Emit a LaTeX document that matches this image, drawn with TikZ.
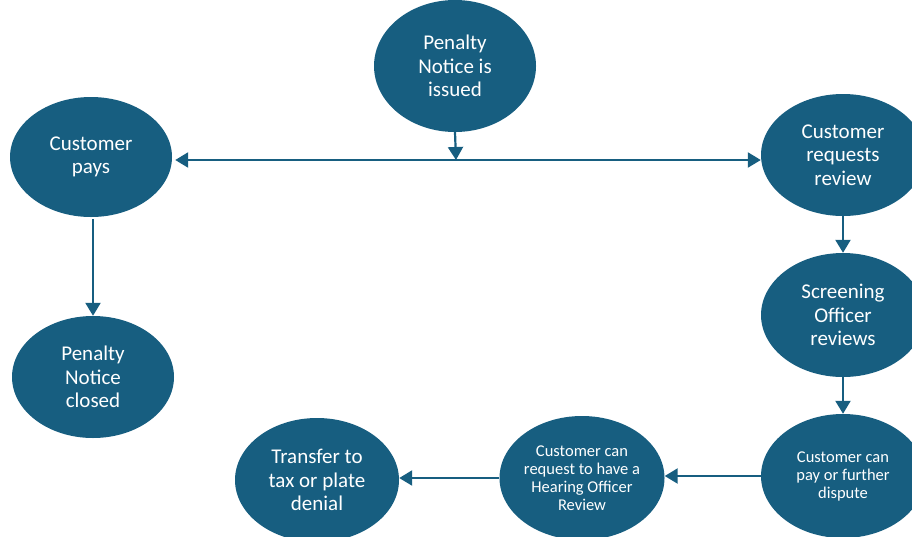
\documentclass[tikz,border=0pt]{standalone}
\usepackage{fontspec}
\setmainfont{Carlito}
\usetikzlibrary{shapes.geometric,arrows.meta}
\definecolor{teal}{HTML}{175E80}
\tikzset{
  bub/.style={ellipse, fill=teal, text=white, inner sep=0pt, align=center,
    minimum width=#1},
  big/.style={font=\fontsize{21}{23.5}\selectfont},
  small/.style={font=\fontsize{16.5}{18}\selectfont},
  conn/.style={draw=teal, line width=2.2pt, -{Triangle[width=15pt,length=13pt]}},
  conn2/.style={draw=teal, line width=2.2pt, {Triangle[width=15pt,length=13pt]}-{Triangle[width=15pt,length=13pt]}}
}
\begin{document}
\begin{tikzpicture}[x=1pt,y=-1pt]
\useasboundingbox (0,0) rectangle (912,536);
\clip (0,0) rectangle (912,536);
\node[bub=162pt, minimum height=132pt, big] (issued) at (455,66) {Penalty\\Notice is\\issued};
\node[bub=162pt, minimum height=120pt, big] (pays) at (91,157) {Customer\\pays};
\node[bub=162pt, minimum height=122pt, big] (closed) at (93,377) {Penalty\\Notice\\closed};
\node[bub=164pt, minimum height=122pt, big] (request) at (843,155) {Customer\\requests\\review};
\node[bub=164pt, minimum height=124pt, big] (screen) at (843,315) {Screening\\Officer\\reviews};
\node[bub=164pt, minimum height=124pt, small] (dispute) at (843,476) {Customer can\\pay or further\\dispute};
\node[bub=165pt, minimum height=124pt, small] (hearing) at (582,478) {Customer can\\request to have a\\Hearing Officer\\Review};
\node[bub=164pt, minimum height=124pt, big] (transfer) at (317,480) {Transfer to\\tax or plate\\denial};
\coordinate (junction) at (456,160);
\draw[conn] (issued.south) -- (junction);
\draw[conn2] (pays.east |- junction) ++(3,0) coordinate (lefttip) (lefttip) -- (request.west |- junction);
\draw[conn] (pays.south) ++(2,2) -- (closed.north);
\draw[conn] (request.south) -- (screen.north);
\draw[conn] (screen.south) -- (dispute.north);
\draw[conn] (dispute.west) -- (hearing.east |- dispute.west);
\draw[conn] (hearing.west) -- (transfer.east |- hearing.west);
\end{tikzpicture}
\end{document}
